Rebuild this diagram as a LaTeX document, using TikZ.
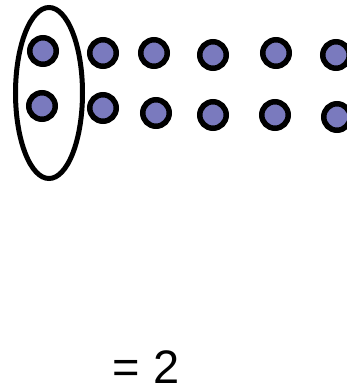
\documentclass[tikz,border=0pt]{standalone}
\usepackage{fontspec}
\setmainfont{Liberation Sans}
\usetikzlibrary{shapes.geometric}
\definecolor{dotfill}{RGB}{122,122,190}
\begin{document}
\begin{tikzpicture}[x=1pt,y=-1pt,
  dot/.style={circle,draw=black,line width=5.5pt,fill=dotfill,minimum size=26.5pt,inner sep=0pt}]
\useasboundingbox (0,0) rectangle (347,389);
\begin{scope}
\clip (0,0) rectangle (347,389);
\node[dot] (a1) at (43,51) {};
\node[dot] (a2) at (103,53) {};
\node[dot] (a3) at (154,53) {};
\node[dot] (a4) at (213,55) {};
\node[dot] (a5) at (276,53) {};
\node[dot] (a6) at (336,55) {};
\node[dot] (b1) at (42,106) {};
\node[dot] (b2) at (103,108) {};
\node[dot] (b3) at (156,113) {};
\node[dot] (b4) at (213,115) {};
\node[dot] (b5) at (275,115) {};
\node[dot] (b6) at (337,117) {};
\node[ellipse,draw=black,line width=5pt,minimum width=67pt,minimum height=171pt,inner sep=0pt] (grp) at (49,93) {};
\end{scope}
\node[font=\fontsize{47}{50}\selectfont,anchor=base,inner sep=0pt] (res) at (146,383) {= 2};
\end{tikzpicture}
\end{document}
